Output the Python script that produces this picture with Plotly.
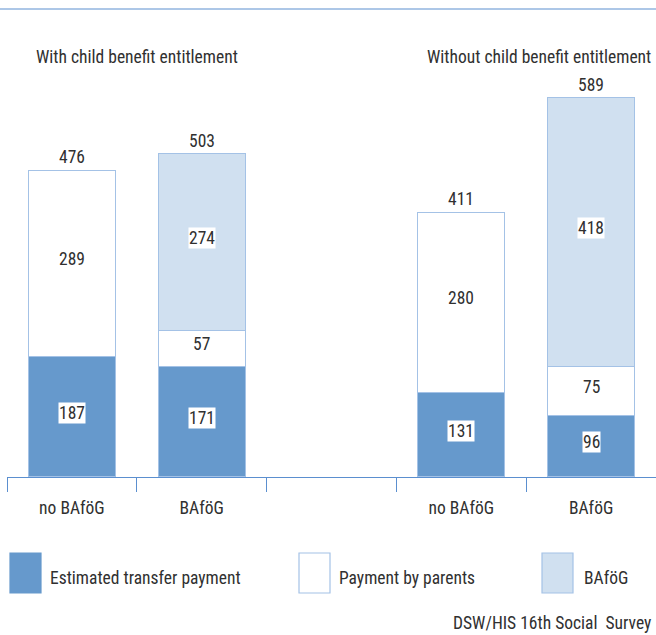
import plotly.graph_objects as go

# Monthly income components (EUR) by group
positions = [0, 1, 3, 4]
bar_labels = ["no BAföG", "BAföG", "no BAföG", "BAföG"]
transfer = [187, 171, 131, 96]
parents = [289, 57, 280, 75]
bafoeg = [0, 274, 0, 418]
totals = [476, 503, 411, 589]
group_titles = ["With child benefit entitlement", "Without child benefit entitlement"]
group_title_x = [0.5, 3.6]
series_names = ["Estimated transfer payment", "Payment by parents", "BAföG"]
source_note = "DSW/HIS 16th Social\u00a0 Survey"

DARK = "#6699cc"
LIGHT = "#d0e0f0"
EDGE = "#a4c2e6"
AXIS = "#5b8fcf"
TEXT = "#303030"
FONT = "Liberation Sans Narrow, Roboto Condensed, Arial Narrow, Roboto, sans-serif"
FS = 17.5

fills = [DARK, "#ffffff", LIGHT]
series = [transfer, parents, bafoeg]

fig = go.Figure()
for name, vals, col in zip(series_names, series, fills):
    fig.add_trace(go.Bar(
        x=positions, y=vals, name=name, width=0.67,
        marker=dict(color=col, line=dict(color=EDGE, width=1.2)),
        showlegend=False, hoverinfo="skip",
    ))

annotations = []
# segment value labels on white boxes
for vals_idx, vals in enumerate(series):
    for i, x in enumerate(positions):
        v = vals[i]
        if not v:
            continue
        base = sum(series[k][i] for k in range(vals_idx))
        annotations.append(dict(
            x=x, y=base + v / 2, xref="x", yref="y", text=str(v),
            showarrow=False, bgcolor="white", borderpad=0, yshift=4,
            xanchor="center", yanchor="middle",
            font=dict(size=FS, color=TEXT, family=FONT),
        ))
# totals above bars
for i, x in enumerate(positions):
    top = sum(s[i] for s in series)
    annotations.append(dict(
        x=x, y=top, xref="x", yref="y", text=str(totals[i]),
        showarrow=False, xanchor="center", yanchor="bottom", yshift=1,
        font=dict(size=FS, color=TEXT, family=FONT),
    ))
# group titles
for t, gx in zip(group_titles, group_title_x):
    annotations.append(dict(
        x=gx, y=652, xref="x", yref="y", text=t, showarrow=False,
        xanchor="center", yanchor="middle",
        font=dict(size=FS, color=TEXT, family=FONT),
    ))

W, H = 656, 635
ML, MR, MT, MB = 7, 0, 26, 158
pw, ph = W - ML - MR, H - MT - MB


def px_x(p):
    return (p - ML) / pw


def px_y(p):
    return (H - MB - p) / ph


shapes = [
    dict(type="line", xref="paper", yref="paper", x0=px_x(0), x1=px_x(W),
         y0=px_y(9), y1=px_y(9), line=dict(color=AXIS, width=1)),
]

# legend swatches and labels
legend_x = [10, 299, 542]
legend_text_x = [48, 337, 582]
for name, col, lx, tx in zip(series_names, fills, legend_x, legend_text_x):
    shapes.append(dict(
        type="rect", xref="paper", yref="paper",
        x0=px_x(lx), x1=px_x(lx + 31), y0=px_y(593), y1=px_y(553),
        fillcolor=col, line=dict(color=EDGE if col != DARK else DARK, width=1.2),
    ))
    annotations.append(dict(
        x=px_x(tx), y=px_y(578), xref="paper", yref="paper", text=name,
        showarrow=False, xanchor="left", yanchor="middle",
        font=dict(size=FS, color=TEXT, family=FONT),
    ))

annotations.append(dict(
    x=px_x(653), y=px_y(623), xref="paper", yref="paper", text=source_note,
    showarrow=False, xanchor="right", yanchor="middle",
    font=dict(size=FS, color=TEXT, family=FONT),
))

fig.update_layout(
    width=W, height=H, barmode="stack",
    margin=dict(l=ML, r=MR, t=MT, b=MB),
    paper_bgcolor="white", plot_bgcolor="white",
    font=dict(family=FONT, size=FS, color=TEXT),
    xaxis=dict(
        range=[-0.5, 4.5], tickvals=positions, ticktext=bar_labels,
        ticks="", showline=True, linecolor=AXIS, linewidth=1,
        showgrid=False, zeroline=False, ticklabelstandoff=15,
        tickfont=dict(size=FS, color=TEXT, family=FONT),
        minor=dict(tickvals=[-0.5, 0.5, 1.5, 2.5, 3.5, 4.5], ticks="outside",
                   ticklen=14, tickcolor=AXIS, tickwidth=1, showgrid=False),
    ),
    yaxis=dict(range=[0, 700], visible=False, showgrid=False, zeroline=False),
    shapes=shapes, annotations=annotations,
)

fig.write_html("out.html")
